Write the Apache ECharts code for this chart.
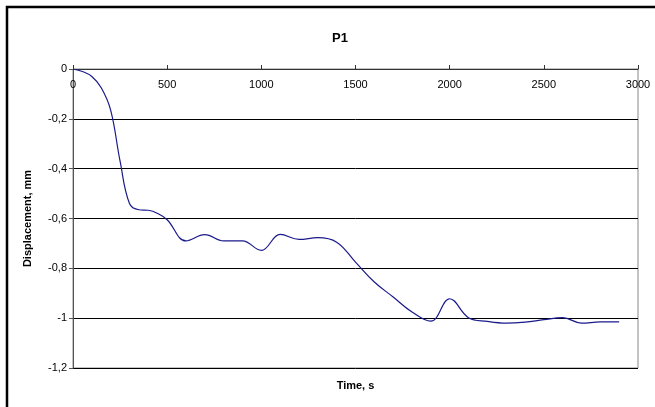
<!DOCTYPE html>
<html>
<head>
<meta charset="utf-8">
<title>P1</title>
<script src="https://cdn.jsdelivr.net/npm/echarts@6/dist/echarts.min.js"></script>
<style>
  html, body { margin: 0; padding: 0; background: #fff; }
  #chart { width: 655px; height: 407px; }
</style>
</head>
<body>
<div id="chart"></div>
<script>
// time (s) and displacement (mm)
const timeS = [0, 50, 100, 150, 200, 250, 300, 350, 400, 450, 500, 600, 700, 800, 900, 1000,
  1100, 1200, 1300, 1400, 1500, 1600, 1700, 1800, 1900, 2000, 2100, 2200, 2300, 2400, 2500,
  2600, 2700, 2800, 2900]
const displacement = [0, -0.01, -0.03, -0.075, -0.165, -0.37, -0.54, -0.565, -0.567, -0.58, -0.605,
  -0.69, -0.665, -0.69, -0.69, -0.728, -0.664, -0.684, -0.677, -0.695, -0.775, -0.855, -0.915,
  -0.975, -1.012, -0.922, -0.998, -1.013, -1.02, -1.016, -1.006, -0.998, -1.02, -1.015, -1.015]

const chart = echarts.init(document.getElementById('chart'), null, { renderer: 'canvas' })

const font = 'Liberation Sans, Arial, sans-serif'

const option = {
  backgroundColor: '#fff',
  animation: false,
  title: {
    text: 'P1',
    left: 335,
    top: 27,
    textAlign: 'center',
    textStyle: { fontFamily: font, fontSize: 13, fontWeight: 'bold', color: '#000' }
  },
  // chart frame, only its top and left edges fall inside the picture
  graphic: [
    {
      type: 'rect',
      shape: { x: 7, y: 7, width: 900, height: 600 },
      style: { fill: 'none', stroke: '#000', lineWidth: 2.5 },
      z: 100
    }
  ],
  grid: { left: 73, top: 69, right: 17, bottom: 39, show: true, borderColor: '#888', borderWidth: 1 },
  xAxis: {
    type: 'value',
    position: 'top',
    min: 0,
    max: 3000,
    interval: 500,
    name: 'Time, s',
    nameLocation: 'middle',
    nameGap: -322,
    nameTextStyle: { fontFamily: font, fontSize: 11, fontWeight: 'bold', color: '#000' },
    axisLine: { show: true, lineStyle: { color: '#333', width: 1 } },
    axisTick: { show: true, inside: false, length: 4, lineStyle: { color: '#333' } },
    axisLabel: {
      inside: true,
      margin: 10,
      fontFamily: font,
      fontSize: 11,
      color: '#000',
      formatter: v => String(v)
    },
    splitLine: { show: false }
  },
  yAxis: {
    type: 'value',
    min: -1.2,
    max: 0,
    interval: 0.2,
    name: 'Displacement, mm',
    nameLocation: 'middle',
    nameGap: 40,
    nameRotate: 90,
    nameTextStyle: { fontFamily: font, fontSize: 11, fontWeight: 'bold', color: '#000' },
    axisLine: { show: true, lineStyle: { color: '#555', width: 1 } },
    axisTick: { show: true, length: 4, lineStyle: { color: '#555' } },
    axisLabel: {
      margin: 6,
      fontFamily: font,
      fontSize: 11,
      color: '#000',
      formatter: v => String(Math.round(v * 10) / 10).replace('.', ',')
    },
    splitLine: { show: true, lineStyle: { color: '#000', width: 1 } }
  },
  series: [
    {
      type: 'line',
      data: timeS.map((t, i) => [t, displacement[i]]),
      smooth: 0.4,
      showSymbol: false,
      lineStyle: { color: '#1a1a8c', width: 1.2 }
    }
  ]
}

chart.setOption(option)
</script>
</body>
</html>
